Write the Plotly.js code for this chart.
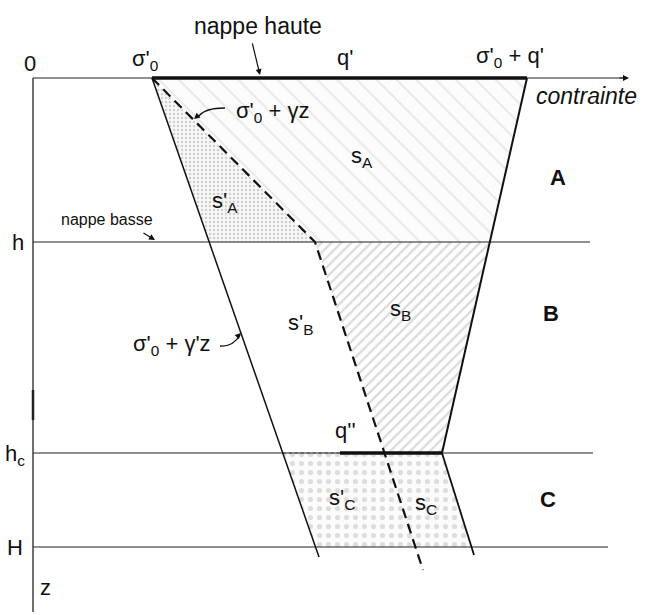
<!DOCTYPE html>
<html>
<head>
<meta charset="utf-8">
<script src="https://cdn.plot.ly/plotly-3.0.1.min.js"></script>
<style>html,body{margin:0;padding:0;background:#fff}#chart{width:645px;height:615px}</style>
</head>
<body>
<div id="chart"></div>
<script>
// ---- depth levels (z, downwards) ----
const levelLabels = ['0', 'h', 'h<sub>c</sub>', 'H'];
const levelZ = [0, 164, 375, 469];
const levelEndS = [594, 557, 560, 575];

// ---- stresses on the top axis ----
const topLabels = ["σ'<sub>0</sub>", "q'", "σ'<sub>0</sub> + q'"];
const qTopS = [119, 494];          // nappe haute surcharge, from σ'0 to σ'0+q'
const qBottomS = [307, 409];       // q'' at depth hc

// ---- stress profiles ----
const effZ = [0, 479];             // σ'0 + γ'z (solid, left)
const effS = [119, 286];
const totZ = [0, 164, 492];        // σ'0 + γz (dashed)
const totS = [119, 282, 390];
const rightZ = [0, 375];           // σ'0 + q' boundary (solid, right)
const rightS = [494, 409];
const rightCZ = [375, 477];        // layer C boundary
const rightCS = [409, 441];

const zones = ['A', 'B', 'C'];

function at(zs, ss, z) {
  for (let i = 0; i < zs.length - 1; i++) {
    if (z >= zs[i] && z <= zs[i + 1]) {
      const t = (z - zs[i]) / (zs[i + 1] - zs[i]);
      return ss[i] + t * (ss[i + 1] - ss[i]);
    }
  }
  return ss[ss.length - 1];
}
const [z0, zh, zc, zH] = levelZ;

const traces = [];
const font = 'Liberation Sans, Arial, sans-serif';

// fills
traces.push({ // s'A
  x: [at(effZ, effS, z0), at(totZ, totS, zh), at(effZ, effS, zh)],
  y: [z0, zh, zh], mode: 'lines', fill: 'toself', line: {width: 0},
  fillcolor: 'rgba(0,0,0,0)',
  fillpattern: {shape: '.', fgcolor: '#d0d0d0', bgcolor: '#f8f8f8', size: 4, solidity: 0.3},
  hoverinfo: 'skip'
});
traces.push({ // sA
  x: [at(totZ, totS, z0), at(rightZ, rightS, z0), at(rightZ, rightS, zh), at(totZ, totS, zh)],
  y: [z0, z0, zh, zh], mode: 'lines', fill: 'toself', line: {width: 0},
  fillcolor: 'rgba(0,0,0,0)',
  fillpattern: {shape: '\\', fgcolor: '#e6e6e6', bgcolor: '#fcfcfc', size: 14, solidity: 0.12},
  hoverinfo: 'skip'
});
traces.push({ // sB
  x: [at(totZ, totS, zh), at(rightZ, rightS, zh), at(rightZ, rightS, zc), at(totZ, totS, zc)],
  y: [zh, zh, zc, zc], mode: 'lines', fill: 'toself', line: {width: 0},
  fillcolor: 'rgba(0,0,0,0)',
  fillpattern: {shape: '/', fgcolor: '#d8d8d8', bgcolor: '#ffffff', size: 7, solidity: 0.3},
  hoverinfo: 'skip'
});
traces.push({ // C
  x: [at(effZ, effS, zc), at(rightCZ, rightCS, zc), at(rightCZ, rightCS, zH), at(effZ, effS, zH)],
  y: [zc, zc, zH, zH], mode: 'lines', fill: 'toself', line: {width: 0},
  fillcolor: 'rgba(0,0,0,0)',
  fillpattern: {shape: '.', fgcolor: '#dddddd', bgcolor: '#fbfbfb', size: 9, solidity: 0.25},
  hoverinfo: 'skip'
});

// horizontal level lines
for (let i = 0; i < levelZ.length; i++) {
  traces.push({x: [0, levelEndS[i]], y: [levelZ[i], levelZ[i]], mode: 'lines',
    line: {color: '#222', width: 1.2}, hoverinfo: 'skip'});
}
// vertical depth axis
traces.push({x: [0, 0], y: [0, 534], mode: 'lines', line: {color: '#222', width: 1.3}, hoverinfo: 'skip'});
traces.push({x: [0, 0], y: [312, 342], mode: 'lines', line: {color: '#222', width: 2.5}, hoverinfo: 'skip'});

// thick surcharge segments
traces.push({x: qTopS, y: [z0, z0], mode: 'lines', line: {color: '#111', width: 3.5}, hoverinfo: 'skip'});
traces.push({x: [at(effZ, effS, zc), qBottomS[0]], y: [zc, zc], mode: 'lines', line: {color: '#666', width: 2, dash: 'dot'}, hoverinfo: 'skip'});
traces.push({x: qBottomS, y: [zc, zc], mode: 'lines', line: {color: '#111', width: 3.5}, hoverinfo: 'skip'});

// profiles
traces.push({x: effS, y: effZ, mode: 'lines', line: {color: '#111', width: 1.5}, hoverinfo: 'skip'});
traces.push({x: totS, y: totZ, mode: 'lines', line: {color: '#111', width: 2.2, dash: '10px,6px'}, hoverinfo: 'skip'});
traces.push({x: rightS, y: rightZ, mode: 'lines', line: {color: '#111', width: 2}, hoverinfo: 'skip'});
traces.push({x: rightCS, y: rightCZ, mode: 'lines', line: {color: '#111', width: 1.8}, hoverinfo: 'skip'});

function label(x, y, text, size, extra) {
  return Object.assign({x: x, y: y, xref: 'x', yref: 'y', text: text, showarrow: false,
    font: {family: font, size: size, color: '#111'}}, extra || {});
}
function arrow(x0, y0, x1, y1) {
  return {x: x1, y: y1, ax: x0, ay: y0, xref: 'x', yref: 'y', axref: 'x', ayref: 'y',
    text: '', showarrow: true, arrowhead: 2, arrowsize: 1, arrowwidth: 1.2, arrowcolor: '#111', standoff: 0};
}

const annotations = [
  label(-3, -15, levelLabels[0], 22),
  label(-15, levelZ[1], levelLabels[1], 22),
  label(-18, levelZ[2] + 2, levelLabels[2], 22),
  label(-18, levelZ[3], levelLabels[3], 22),
  label(12, 509, 'z', 22),
  label(112, -18, topLabels[0], 22),
  label(312, -21, topLabels[1], 22),
  label(477, -21, topLabels[2], 22),
  label(225, -52, 'nappe haute', 23),
  label(553, 18, '<i>contrainte</i>', 23),
  label(239, 34, "σ'<sub>0</sub> + γz", 22),
  label(329, 79, 's<sub>A</sub>', 22),
  label(192, 124, "s'<sub>A</sub>", 22),
  label(74, 141, 'nappe basse', 16),
  label(267, 246, "s'<sub>B</sub>", 22),
  label(367, 232, 's<sub>B</sub>', 22),
  label(139, 267, "σ'<sub>0</sub> + γ'z", 22),
  label(312, 352, "q''", 22),
  label(309, 421, "s'<sub>C</sub>", 22),
  label(393, 426, 's<sub>C</sub>', 22),
  label(525, 99, '<b>' + zones[0] + '</b>', 22),
  label(518, 235, '<b>' + zones[1] + '</b>', 22),
  label(515, 421, '<b>' + zones[2] + '</b>', 22),
  arrow(219, -36, 227, -3),
  arrow(109, 154, 122, 162),
  arrow(585, 0, 596, 0),
  arrow(167, 36, 161, 41),
  arrow(203, 260, 208, 255)
];

const shapes = [
  {type: 'path', xref: 'x', yref: 'y', path: 'M 192 30 Q 172 30 166 38', line: {color: '#111', width: 1.3}},
  {type: 'path', xref: 'x', yref: 'y', path: 'M 187 268 Q 200 269 207 257', line: {color: '#111', width: 1.3}}
];

const layout = {
  width: 645, height: 615,
  margin: {l: 0, r: 0, t: 0, b: 0},
  paper_bgcolor: '#ffffff', plot_bgcolor: '#ffffff',
  showlegend: false,
  xaxis: {range: [-33, 612], visible: false, fixedrange: true},
  yaxis: {range: [537, -78], visible: false, fixedrange: true},
  annotations: annotations,
  shapes: shapes
};

Plotly.newPlot('chart', traces, layout, {displayModeBar: false, staticPlot: true});
</script>
</body>
</html>
